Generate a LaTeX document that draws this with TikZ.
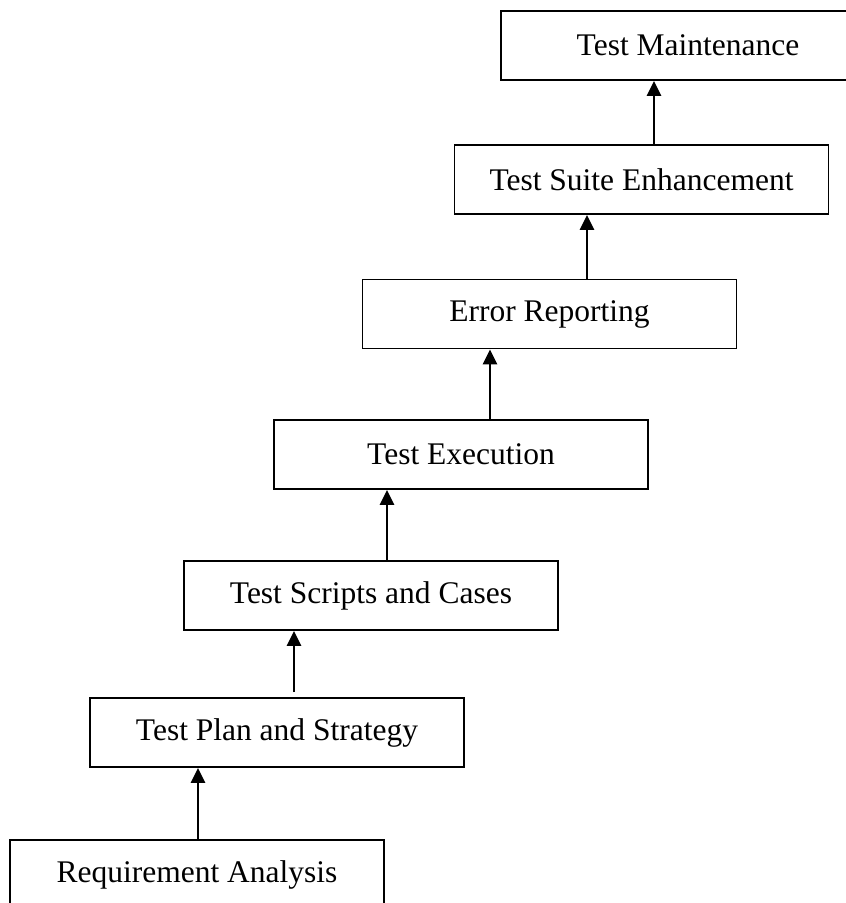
\documentclass[tikz,border=0pt]{standalone}
\usepackage{fontspec}
\setmainfont{Liberation Serif}
\usetikzlibrary{arrows.meta}
\begin{document}
\begin{tikzpicture}[x=1pt,y=-1pt,
  stage/.style={draw=black,line width=1.8pt,fill=white,minimum width=374pt,minimum height=69pt,inner sep=0pt,font=\fontsize{31.5}{38}\selectfont},
  arr/.style={line width=2.4pt,-{Triangle[length=15pt,width=14pt]}}]
\useasboundingbox (0,0) rectangle (846,903);
\clip (0,0) rectangle (846,903);
\node[stage] (req) at (197,874.5) {Requirement Analysis};
\node[stage] (plan) at (277,732.5) {Test Plan and Strategy};
\node[stage] (scripts) at (371,595.5) {Test Scripts and Cases};
\node[stage] (exec) at (461,454.5) {Test Execution};
\node[stage] (error) at (549.5,314) {Error Reporting};
\node[stage] (suite) at (641.5,179.5) {Test Suite Enhancement};
\node[stage] (maint) at (688,45.5) {Test Maintenance};
\draw[arr] ([xshift=1pt]req.north) -- ([xshift=1pt]req.north |- plan.south);
\draw[arr,shorten <=5pt] ([xshift=17pt]plan.north) -- ([xshift=17pt]plan.north |- scripts.south);
\draw[arr] ([xshift=16pt]scripts.north) -- ([xshift=16pt]scripts.north |- exec.south);
\draw[arr] ([xshift=29pt]exec.north) -- ([xshift=29pt]exec.north |- error.south);
\draw[arr] ([xshift=37.5pt]error.north) -- ([xshift=37.5pt]error.north |- suite.south);
\draw[arr] ([xshift=12.5pt]suite.north) -- ([xshift=12.5pt]suite.north |- maint.south);
\end{tikzpicture}
\end{document}
